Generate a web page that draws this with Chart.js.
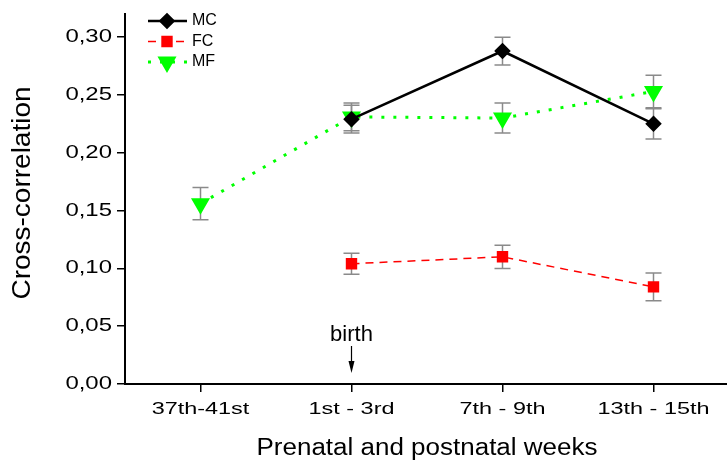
<!DOCTYPE html>
<html>
<head>
<meta charset="utf-8">
<script src="https://cdn.jsdelivr.net/npm/chart.js@4.4.1/dist/chart.umd.min.js"></script>
<style>
  html, body { margin: 0; padding: 0; background: #fff; overflow: hidden; }
  #wrap { width: 740px; height: 464px; }
</style>
</head>
<body>
<div id="wrap"><canvas id="corr" width="740" height="464"></canvas></div>
<script>
// data
var weeks = ['37th-41st', '1st - 3rd', '7th - 9th', '13th - 15th'];
var mcVals = [null, 0.229, 0.288, 0.225];
var mcErr  = [null, 0.012, 0.012, 0.013];
var fcVals = [null, 0.104, 0.110, 0.084];
var fcErr  = [null, 0.009, 0.010, 0.012];
var mfVals = [0.156, 0.231, 0.230, 0.253];
var mfErr  = [0.014, 0.012, 0.013, 0.014];
var yTicks = [0, 0.05, 0.10, 0.15, 0.20, 0.25, 0.30];
var birthAt = 1;
var xTitle = 'Prenatal and postnatal weeks';
var yTitle = 'Cross-correlation';

var FONT = "'Liberation Sans', Arial, sans-serif";
var errs = [mcErr, fcErr, mfErr];

function fmt(v) { return v.toFixed(2).replace('.', ','); }

// text stretched out wide, like the original export
function wideText(ctx, txt, x, y, size, sx, align, rot) {
  ctx.save();
  ctx.translate(x, y);
  if (rot) ctx.rotate(rot);
  ctx.scale(sx, 1);
  ctx.font = size + 'px ' + FONT;
  ctx.textAlign = align;
  ctx.textBaseline = 'middle';
  ctx.fillStyle = '#000';
  ctx.fillText(txt, 0, 0);
  ctx.restore();
}

// error bars, drawn under the markers
var errorBars = {
  id: 'errorBars',
  beforeDatasetsDraw: function (chart) {
    var ctx = chart.ctx, x = chart.scales.x, y = chart.scales.y;
    ctx.save();
    ctx.strokeStyle = '#8a8a8a';
    ctx.lineWidth = 1.5;
    chart.data.datasets.forEach(function (ds, i) {
      ds.data.forEach(function (v, j) {
        if (v == null) return;
        var e = errs[i][j];
        var px = x.getPixelForValue(j);
        var top = y.getPixelForValue(v + e), bot = y.getPixelForValue(v - e);
        ctx.beginPath();
        ctx.moveTo(px, top); ctx.lineTo(px, bot);
        ctx.moveTo(px - 8, top); ctx.lineTo(px + 8, top);
        ctx.moveTo(px - 8, bot); ctx.lineTo(px + 8, bot);
        ctx.stroke();
      });
    });
    ctx.restore();
  }
};

// tick labels, titles, legend in the top left corner, birth arrow
var extras = {
  id: 'extras',
  afterDraw: function (chart) {
    var ctx = chart.ctx, xs = chart.scales.x, ys = chart.scales.y;

    ys.ticks.forEach(function (t, i) {
      wideText(ctx, fmt(t.value), 112, ys.getPixelForTick(i), 18, 1.33, 'right');
    });
    xs.ticks.forEach(function (t, i) {
      wideText(ctx, weeks[t.value], xs.getPixelForTick(i), 409, 16.5, 1.42, 'center');
    });
    wideText(ctx, xTitle, (xs.left + xs.right) / 2, 449, 23, 1.13, 'center');
    wideText(ctx, yTitle, 23, 193, 25, 1.12, 'center', -Math.PI / 2);

    ctx.save();
    chart.data.datasets.forEach(function (ds, i) {
      var yy = 21 + i * 20.5;
      ctx.strokeStyle = ds.borderColor;
      ctx.lineWidth = ds.borderWidth;
      ctx.setLineDash(ds.borderDash || []);
      ctx.beginPath();
      ctx.moveTo(148, yy); ctx.lineTo(187, yy);
      ctx.stroke();
      ctx.setLineDash([]);
      Chart.helpers.drawPoint(ctx, {
        pointStyle: ds.pointStyle, radius: ds.pointRadius,
        rotation: ds.rotation || 0, borderWidth: 1
      }, 167, yy);
      ctx.fillStyle = ds.pointBackgroundColor;
      ctx.strokeStyle = ds.pointBorderColor;
      ctx.fill();
      ctx.fillStyle = '#000';
      ctx.font = '16px ' + FONT;
      ctx.textBaseline = 'middle';
      ctx.fillText(ds.label, 192, yy);
    });

    var bx = xs.getPixelForValue(birthAt);
    ctx.fillStyle = '#000';
    ctx.font = '22px ' + FONT;
    ctx.textAlign = 'center';
    ctx.textBaseline = 'alphabetic';
    ctx.fillText('birth', bx, 341);
    ctx.strokeStyle = '#000';
    ctx.lineWidth = 1.2;
    ctx.beginPath();
    ctx.moveTo(bx, 346); ctx.lineTo(bx, 368);
    ctx.stroke();
    ctx.beginPath();
    ctx.moveTo(bx - 3, 361); ctx.lineTo(bx, 373); ctx.lineTo(bx + 3, 361);
    ctx.closePath();
    ctx.fill();
    ctx.restore();
  }
};

var chart = new Chart(document.getElementById('corr').getContext('2d'), {
  type: 'line',
  data: {
    labels: weeks,
    datasets: [{
      label: 'MC',
      data: mcVals,
      borderColor: '#000',
      borderWidth: 2.5,
      pointStyle: 'rectRot',
      pointRadius: 6.5,
      pointBackgroundColor: '#000',
      pointBorderColor: '#000'
    }, {
      label: 'FC',
      data: fcVals,
      borderColor: '#ff0000',
      borderWidth: 1.5,
      borderDash: [8, 6],
      pointStyle: 'rect',
      pointRadius: 7,
      pointBackgroundColor: '#ff0000',
      pointBorderColor: '#ff0000'
    }, {
      label: 'MF',
      data: mfVals,
      borderColor: '#00ff00',
      borderWidth: 3,
      borderDash: [3, 9],
      pointStyle: 'triangle',
      rotation: 180,
      pointRadius: 8,
      pointBackgroundColor: '#00ff00',
      pointBorderColor: '#00ff00'
    }]
  },
  options: {
    responsive: false,
    animation: false,
    layout: { padding: { top: 14, left: 0, right: 0, bottom: 0 } },
    plugins: { legend: { display: false }, tooltip: { enabled: false } },
    elements: { line: { tension: 0 } },
    scales: {
      x: {
        offset: true,
        grid: { display: true, drawOnChartArea: false, drawTicks: true, tickLength: 8, color: '#000', lineWidth: 1.5, offset: false },
        border: { display: true, color: '#000', width: 2 },
        ticks: { display: false },
        afterFit: function (s) { s.height = 80; }
      },
      y: {
        min: 0,
        max: 0.32,
        grid: { display: true, drawOnChartArea: false, drawTicks: true, tickLength: 8, color: '#000', lineWidth: 1.5 },
        border: { display: true, color: '#000', width: 2 },
        afterBuildTicks: function (s) { s.ticks = yTicks.map(function (v) { return { value: v }; }); },
        ticks: { display: false },
        afterFit: function (s) { s.width = 125; }
      }
    }
  },
  plugins: [errorBars, extras]
});
</script>
</body>
</html>
